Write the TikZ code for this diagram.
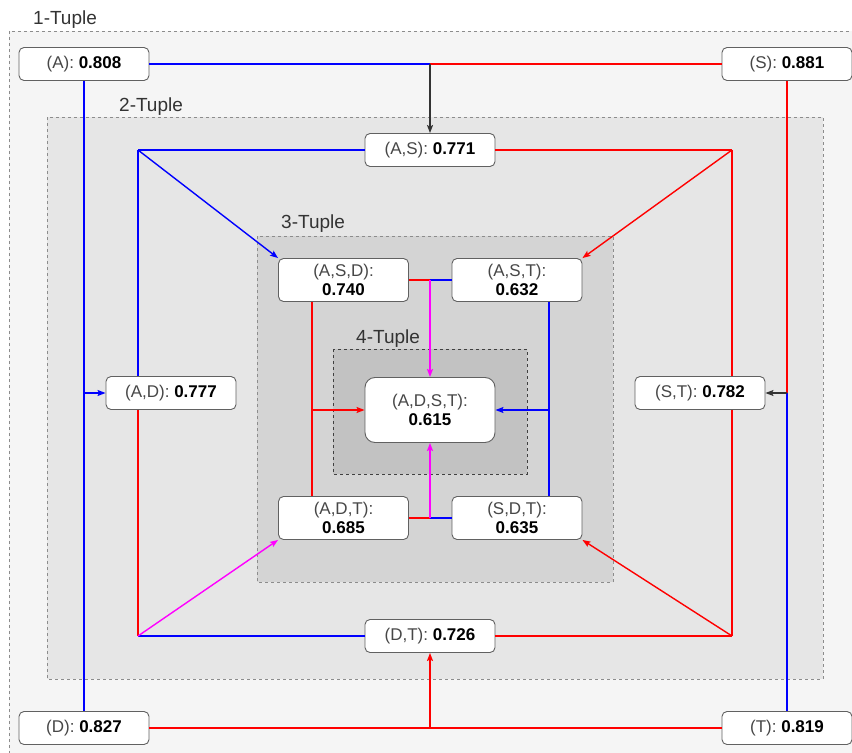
\documentclass[tikz,border=0pt]{standalone}
\usepackage{fontspec}
\setmainfont{Liberation Sans}
\usetikzlibrary{arrows.meta,calc}

\definecolor{oneT}{HTML}{F5F5F5}
\definecolor{twoT}{HTML}{E6E6E6}
\definecolor{threeT}{HTML}{D4D4D4}
\definecolor{fourT}{HTML}{C2C2C2}
\definecolor{pureblue}{HTML}{0000FF}
\definecolor{purered}{HTML}{FF0000}
\definecolor{puremag}{HTML}{FF00FF}

\begin{document}
\begin{tikzpicture}[
  x=1bp, y=-1bp,
  font=\fontsize{17bp}{19.5bp}\selectfont,
  tuple/.style={
    draw=black!62,
    rounded corners=5bp,
    line width=0.9bp,
    fill=white,
    align=center,
    text=black!72,
    inner sep=0pt,
    minimum width=130bp,
    minimum height=33bp
  },
  tuple3/.style={tuple, minimum height=43bp},
  tuple4/.style={tuple, minimum height=65bp, rounded corners=10bp},
  group/.style={draw=black!45, dash pattern=on 3bp off 3bp, line width=0.8bp},
  grouplabel/.style={font=\fontsize{19bp}{22bp}\selectfont, text=black!80, anchor=base west, inner sep=0pt},
  bline/.style={draw=pureblue, line width=1.4bp},
  rline/.style={draw=purered, line width=1.4bp},
  barrow/.style={bline, -{Stealth[length=8bp,width=6bp,inset=1.5bp]}},
  rarrow/.style={rline, -{Stealth[length=8bp,width=6bp,inset=1.5bp]}},
  marrow/.style={draw=puremag, line width=1.4bp, -{Stealth[length=8bp,width=6bp,inset=1.5bp]}},
  karrow/.style={draw=black!80, line width=1.1bp, -{Stealth[length=8bp,width=6bp,inset=1.5bp]}}
]
\clip (0,0) rectangle (852,753);
\fill[white] (0,0) rectangle (852,753);

% Nested tuple groups, outermost first.
\draw[group, fill=oneT]   (9,31)   rectangle (880,780);
\draw[group, fill=twoT]   (47,117) rectangle (823,679);
\draw[group, fill=threeT] (257,236) rectangle (613,582);
\draw[group, fill=fourT, draw=black!75] (333,349) rectangle (527,474);

\node[grouplabel] (l1) at (33,25)   {1-Tuple};
\node[grouplabel] (l2) at (119,111) {2-Tuple};
\node[grouplabel] (l3) at (281,228) {3-Tuple};
\node[grouplabel] (l4) at (356,343) {4-Tuple};

% 1-tuples in the corners.
\node[tuple] (A) at (84,64)   {(A): \textcolor{black}{\textbf{0.808}}};
\node[tuple] (S) at (787,64)  {(S): \textcolor{black}{\textbf{0.881}}};
\node[tuple] (D) at (84,728)  {(D): \textcolor{black}{\textbf{0.827}}};
\node[tuple] (T) at (787,728) {(T): \textcolor{black}{\textbf{0.819}}};

% 2-tuples on the sides.
\node[tuple] (AS) at (430,150) {(A,S): \textcolor{black}{\textbf{0.771}}};
\node[tuple] (DT) at (430,636) {(D,T): \textcolor{black}{\textbf{0.726}}};
\node[tuple] (AD) at (171,393) {(A,D): \textcolor{black}{\textbf{0.777}}};
\node[tuple] (ST) at (700,393) {(S,T): \textcolor{black}{\textbf{0.782}}};

% 3-tuples and the 4-tuple in the middle.
\node[tuple3] (ASD) at (343.5,280) {(A,S,D):\\\textcolor{black}{\textbf{0.740}}};
\node[tuple3] (AST) at (517,280)   {(A,S,T):\\\textcolor{black}{\textbf{0.632}}};
\node[tuple3] (ADT) at (343.5,518) {(A,D,T):\\\textcolor{black}{\textbf{0.685}}};
\node[tuple3] (SDT) at (517,518)   {(S,D,T):\\\textcolor{black}{\textbf{0.635}}};
\node[tuple4] (ADST) at (430,410)  {(A,D,S,T):\\\textcolor{black}{\textbf{0.615}}};

% 1-tuples into 2-tuples.
\coordinate (jAS) at (AS.north |- A.east);
\draw[bline] (A.east) -- (jAS);
\draw[rline] (S.west) -- (jAS);
\draw[karrow] (jAS) -- (AS.north);

\coordinate (jAD) at (A.south |- AD.west);
\draw[bline] (A.south) -- (jAD);
\draw[bline] (D.north) -- (jAD);
\draw[barrow] (jAD) -- (AD.west);

\coordinate (jST) at (S.south |- ST.east);
\draw[rline] (S.south) -- (jST);
\draw[bline] (T.north) -- (jST);
\draw[karrow] (jST) -- (ST.east);

\coordinate (jDT) at (DT.south |- D.east);
\draw[rline] (D.east) -- (jDT);
\draw[rline] (T.west) -- (jDT);
\draw[rarrow] (jDT) -- (DT.south);

% 2-tuples into 3-tuples.
\coordinate (cNW) at (138,150);
\coordinate (cNE) at (732,150);
\coordinate (cSE) at (732,636);
\coordinate (cSW) at (138,636);

\draw[bline] (AS.west) -- (cNW);
\draw[bline] (AD.north -| cNW) -- (cNW);
\draw[barrow] (cNW) -- (ASD.north west);

\draw[rline] (AS.east) -- (cNE);
\draw[rline] (ST.north -| cNE) -- (cNE);
\draw[rarrow] (cNE) -- (AST.north east);

\draw[rline] (DT.east) -- (cSE);
\draw[rline] (ST.south -| cSE) -- (cSE);
\draw[rarrow] (cSE) -- (SDT.south east);

\draw[bline] (DT.west) -- (cSW);
\draw[rline] (AD.south -| cSW) -- (cSW);
\draw[marrow] (cSW) -- (ADT.south west);

% 3-tuples into the 4-tuple.
\coordinate (jTop) at (ADST.north |- ASD.east);
\draw[rline] (ASD.east) -- (jTop);
\draw[bline] (AST.west) -- (jTop);
\draw[marrow] (jTop) -- (ADST.north);

\coordinate (jBot) at (ADST.south |- ADT.east);
\draw[rline] (ADT.east) -- (jBot);
\draw[bline] (SDT.west) -- (jBot);
\draw[marrow] (jBot) -- (ADST.south);

\coordinate (jL) at (312,410);
\draw[rline] (ASD.south -| jL) -- (ADT.north -| jL);
\draw[rarrow] (jL) -- (ADST.west);

\coordinate (jR) at (549,410);
\draw[bline] (AST.south -| jR) -- (SDT.north -| jR);
\draw[barrow] (jR) -- (ADST.east);

\end{tikzpicture}
\end{document}
